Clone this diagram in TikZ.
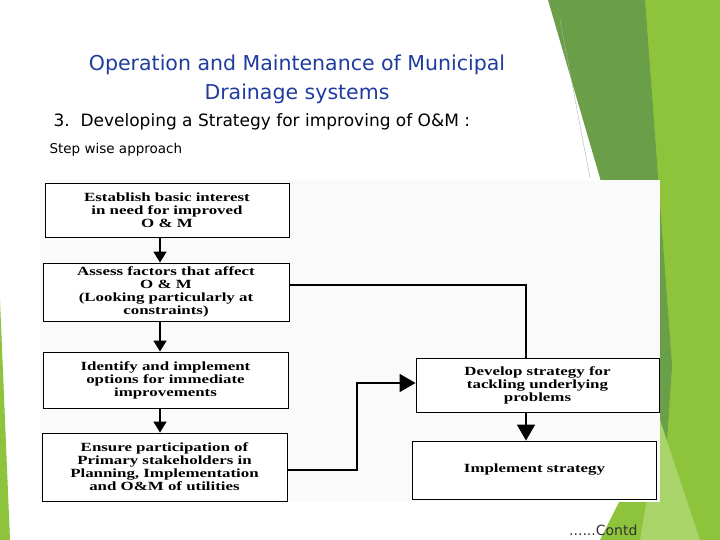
\documentclass[tikz,border=0pt]{standalone}
\usepackage{fontspec}
\setmainfont{DejaVu Sans}
\newfontfamily\boxfont{Liberation Serif}[FakeStretch=1.35]
\usetikzlibrary{arrows.meta}
\definecolor{titleblue}{HTML}{1F3C9E}
\definecolor{dkgreen}{HTML}{6A9E48}
\definecolor{ltgreen}{HTML}{8DC43C}
\definecolor{paleg}{HTML}{A8D46A}
\begin{document}
\begin{tikzpicture}[x=1pt,y=-1pt,
  stepbox/.style={draw=black,line width=0.9pt,fill=white,align=center,inner sep=1pt,
    font=\boxfont\bfseries\fontsize{12.5}{13}\selectfont},
  conn/.style={line width=1.6pt,-{Triangle[length=11pt,width=13pt]}},
  bigconn/.style={line width=1.6pt,-{Triangle[length=16pt,width=18pt]}}]
\useasboundingbox (0,0) rectangle (720,540);
\fill[white] (0,0) rectangle (720,540);
% green decoration
\fill[ltgreen] (640,0) -- (720,0) -- (720,540) -- (600,540) -- (660,420) -- cycle;
\fill[dkgreen] (548,0) -- (645,0) -- (672,366) -- (665,470) -- (600,178) -- cycle;
\fill[paleg] (660,420) -- (700,540) -- (640,540) -- cycle;
\fill[ltgreen] (0,300) -- (10,540) -- (0,540) -- cycle;
\draw[gray!60,line width=0.4pt] (560,20) -- (590,178);
% titles
\node[text=titleblue,font=\fontsize{20.5}{29}\selectfont,align=center] (title) at (297,79)
  {Operation and Maintenance of Municipal\\Drainage systems};
\node[anchor=west,font=\fontsize{17}{18}\selectfont] (sub) at (50,122)
  {3.\ \ Developing a Strategy for improving of O\&M :};
\node[anchor=west,font=\fontsize{13.5}{16}\selectfont] (swa) at (46,150) {Step wise approach};
% scanned image background
\fill[white!96!gray] (40,180) rectangle (660,502);
% boxes
\node[stepbox,minimum width=244pt,minimum height=54pt] (b1) at (167,210)
  {Establish basic interest\\in need for improved\\O \& M};
\node[stepbox,minimum width=246pt,minimum height=58pt] (b2) at (166,292)
  {Assess factors that affect\\O \& M\\(Looking particularly at\\constraints)};
\node[stepbox,minimum width=245pt,minimum height=56pt] (b3) at (165.5,380)
  {Identify and implement\\options for immediate\\improvements};
\node[stepbox,minimum width=245pt,minimum height=68pt] (b4) at (164.5,467)
  {Ensure participation of\\Primary stakeholders in\\Planning, Implementation\\and O\&M of utilities};
\node[stepbox,minimum width=243pt,minimum height=54pt] (b5) at (537.5,385)
  {Develop strategy for\\tackling underlying\\problems};
\node[stepbox,minimum width=244pt,minimum height=58pt] (b6) at (534.5,470)
  {Implement strategy};
% connectors
\draw[conn] (b1.south -| 160,0) -- (b2.north -| 160,0);
\draw[conn] (b2.south -| 160,0) -- (b3.north -| 160,0);
\draw[conn] (b3.south -| 160,0) -- (b4.north -| 160,0);
\draw[line width=1.6pt] (b2.east |- 0,285) -| (b5.north -| 526,0);
\draw[bigconn] (b4.east |- 0,470) -| (357,383) -- (b5.west |- 0,383);
\draw[bigconn] (b5.south -| 526,0) -- (b6.north -| 526,0);
\node[anchor=east,text=black!80,font=\fontsize{14}{16}\selectfont] (contd) at (641,530) {......Contd};
\end{tikzpicture}
\end{document}
